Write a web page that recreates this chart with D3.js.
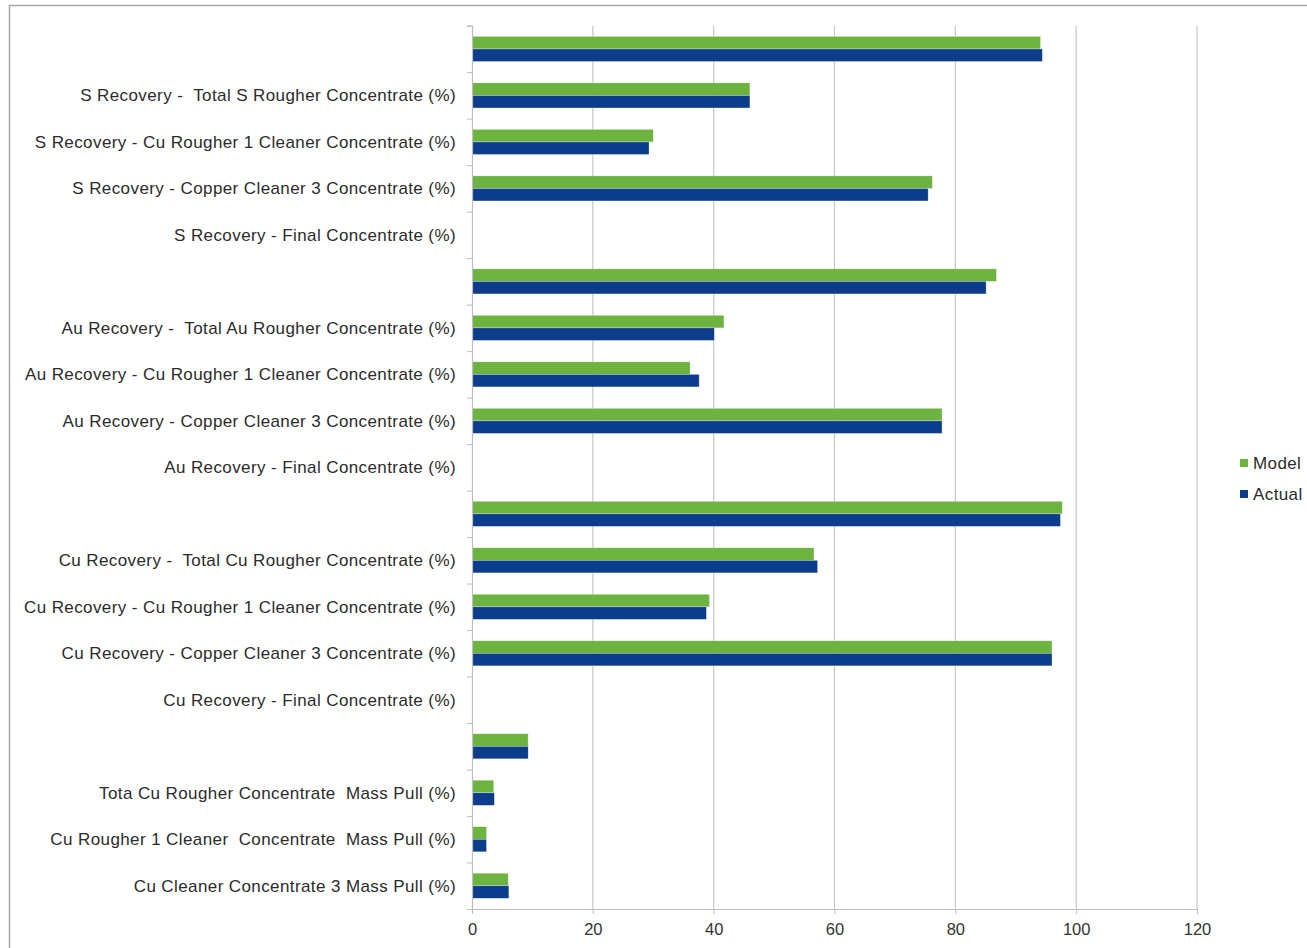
<!DOCTYPE html>
<html>
<head>
<meta charset="utf-8">
<script src="https://cdn.jsdelivr.net/npm/d3@7"></script>
<style>
  body { margin: 0; background: #fff; }
  svg { display: block; font-family: "Liberation Sans", Arial, sans-serif; }
  .lbl { white-space: pre; }
</style>
</head>
<body>
<svg id="chart" width="1307" height="948"></svg>
<script>
// Row labels, top to bottom (empty strings are unlabeled rows)
const categories = [
  "",
  "S Recovery -  Total S Rougher Concentrate (%)",
  "S Recovery - Cu Rougher 1 Cleaner Concentrate (%)",
  "S Recovery - Copper Cleaner 3 Concentrate (%)",
  "S Recovery - Final Concentrate (%)",
  "",
  "Au Recovery -  Total Au Rougher Concentrate (%)",
  "Au Recovery - Cu Rougher 1 Cleaner Concentrate (%)",
  "Au Recovery - Copper Cleaner 3 Concentrate (%)",
  "Au Recovery - Final Concentrate (%)",
  "",
  "Cu Recovery -  Total Cu Rougher Concentrate (%)",
  "Cu Recovery - Cu Rougher 1 Cleaner Concentrate (%)",
  "Cu Recovery - Copper Cleaner 3 Concentrate (%)",
  "Cu Recovery - Final Concentrate (%)",
  "",
  "Tota Cu Rougher Concentrate  Mass Pull (%)",
  "Cu Rougher 1 Cleaner  Concentrate  Mass Pull (%)",
  "Cu Cleaner Concentrate 3 Mass Pull (%)"
];

const modelValues  = [94.1, 46.0, 30.0, 76.2, null, 86.8, 41.7, 36.1, 77.8, null, 97.7, 56.6, 39.3, 96.0, null, 9.3, 3.6, 2.4, 6.0];
const actualValues = [94.4, 46.0, 29.3, 75.5, null, 85.1, 40.1, 37.6, 77.8, null, 97.4, 57.2, 38.8, 96.0, null, 9.3, 3.7, 2.4, 6.1];

const seriesNames = ["Model", "Actual"];
const seriesColors = ["#6db33f", "#0b3d8c"];
const xTicks = [0, 20, 40, 60, 80, 100, 120];

const svg = d3.select("#chart");

// chart frame
svg.append("rect")
  .attr("x", 9.5).attr("y", 5.5)
  .attr("width", 1320).attr("height", 960)
  .attr("fill", "none").attr("stroke", "#a9a9a9").attr("stroke-width", 1.5);

const plot = { left: 472, right: 1197, top: 25.7, bottom: 909 };

const rows = categories.map((c, i) => ({
  key: i, label: c,
  values: [modelValues[i], actualValues[i]]
}));

const x = d3.scaleLinear().domain([0, 120]).range([plot.left, plot.right]);
const y = d3.scaleBand().domain(rows.map(r => r.key))
  .range([plot.top, plot.bottom]).paddingInner(0.46).paddingOuter(0.23);
const ySub = d3.scaleBand().domain([0, 1]).range([0, y.bandwidth()]);

// row boundaries for the category axis ticks
const yEdge = d3.scaleLinear().domain([0, categories.length]).range([plot.top, plot.bottom]);

// vertical gridlines
svg.append("g").selectAll("line")
  .data(xTicks.filter(t => t > 0))
  .join("line")
  .attr("x1", d => x(d)).attr("x2", d => x(d))
  .attr("y1", plot.top).attr("y2", plot.bottom)
  .attr("stroke", "#c6c6c6").attr("stroke-width", 1.2);

// bars
const groups = svg.append("g").selectAll("g")
  .data(rows).join("g")
  .attr("transform", d => `translate(0,${y(d.key)})`);

groups.selectAll("rect")
  .data(d => d.values.map((v, s) => ({ v, s })).filter(e => e.v != null))
  .join("rect")
  .attr("x", x(0))
  .attr("y", d => ySub(d.s))
  .attr("width", d => x(d.v) - x(0))
  .attr("height", ySub.bandwidth())
  .attr("fill", d => seriesColors[d.s])
  .attr("stroke", "#ffffff").attr("stroke-opacity", 0.5).attr("stroke-width", 0.6);

// x axis
const xAxis = svg.append("g")
  .attr("transform", `translate(0,${plot.bottom})`)
  .call(d3.axisBottom(x).tickValues(xTicks).tickSize(5).tickPadding(9));
xAxis.select(".domain").attr("stroke", "#bdbdbd").attr("stroke-width", 1.2);
xAxis.selectAll(".tick line").attr("stroke", "#bdbdbd");
xAxis.selectAll("text").attr("font-size", 16.5).attr("fill", "#333")
  .attr("font-family", "Liberation Sans, Arial, sans-serif");

// y axis line with ticks at row boundaries
const yAxis = svg.append("g")
  .attr("transform", `translate(${plot.left},0)`)
  .call(d3.axisLeft(yEdge).tickValues(d3.range(0, categories.length + 1))
    .tickSize(5).tickFormat(""));
yAxis.select(".domain").attr("stroke", "#bdbdbd").attr("stroke-width", 1.2);
yAxis.selectAll(".tick line").attr("stroke", "#bdbdbd");

// category labels
svg.append("g").selectAll("text")
  .data(rows).join("text")
  .attr("class", "lbl")
  .attr("x", 456)
  .attr("y", d => y(d.key) + y.bandwidth() / 2)
  .attr("dy", "0.35em")
  .attr("text-anchor", "end")
  .attr("font-size", 17)
  .attr("letter-spacing", 0.4)
  .attr("fill", "#2b2b2b")
  .text(d => d.label);

// legend
const legend = svg.append("g").attr("transform", "translate(1240,463)");
const items = legend.selectAll("g").data(seriesNames).join("g")
  .attr("transform", (d, i) => `translate(0,${i * 31})`);
items.append("rect")
  .attr("x", 0).attr("y", -4).attr("width", 8).attr("height", 8)
  .attr("fill", (d, i) => seriesColors[i]);
items.append("text")
  .attr("x", 13).attr("y", 0).attr("dy", "0.35em")
  .attr("font-size", 17).attr("letter-spacing", 0.4).attr("fill", "#2b2b2b")
  .text(d => d);
</script>
</body>
</html>
